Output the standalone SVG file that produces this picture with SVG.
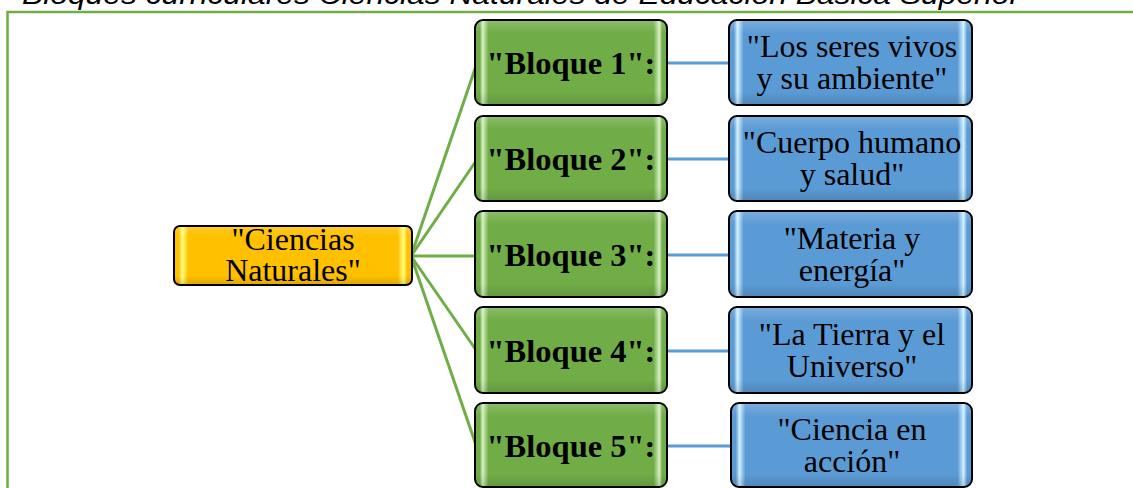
<svg xmlns="http://www.w3.org/2000/svg" width="1133" height="488" viewBox="0 0 1133 488">
<defs>
<linearGradient id="gG" x1="0" y1="0" x2="1" y2="0">
<stop offset="0" stop-color="#70AD47"/><stop offset="0.025" stop-color="#70AD47"/><stop offset="0.04" stop-color="#D8F0C4"/><stop offset="0.07" stop-color="#70AD47"/>
<stop offset="0.93" stop-color="#70AD47"/><stop offset="0.96" stop-color="#D8F0C4"/><stop offset="0.975" stop-color="#70AD47"/><stop offset="1" stop-color="#70AD47"/>
</linearGradient>
<linearGradient id="gB" x1="0" y1="0" x2="1" y2="0">
<stop offset="0" stop-color="#5B9BD5"/><stop offset="0.02" stop-color="#5B9BD5"/><stop offset="0.035" stop-color="#D2F0FF"/><stop offset="0.06" stop-color="#5B9BD5"/>
<stop offset="0.94" stop-color="#5B9BD5"/><stop offset="0.965" stop-color="#D2F0FF"/><stop offset="0.98" stop-color="#5B9BD5"/><stop offset="1" stop-color="#5B9BD5"/>
</linearGradient>
<linearGradient id="gO" x1="0" y1="0" x2="1" y2="0">
<stop offset="0" stop-color="#FFC000"/><stop offset="0.02" stop-color="#FFC000"/><stop offset="0.035" stop-color="#FFFF80"/><stop offset="0.06" stop-color="#FFC000"/>
<stop offset="0.94" stop-color="#FFC000"/><stop offset="0.965" stop-color="#FFFF80"/><stop offset="0.98" stop-color="#FFC000"/><stop offset="1" stop-color="#FFC000"/>
</linearGradient>
<linearGradient id="shade" x1="0" y1="0" x2="0" y2="1">
<stop offset="0" stop-color="#fff" stop-opacity="0.18"/><stop offset="0.15" stop-color="#fff" stop-opacity="0"/><stop offset="0.85" stop-color="#000" stop-opacity="0"/><stop offset="1" stop-color="#000" stop-opacity="0.12"/>
</linearGradient>
</defs>
<style>
.box{stroke:#000;stroke-width:2}
.ov{fill:url(#shade);stroke:none}
.t{font-family:"Liberation Serif","Times New Roman",serif;font-size:32px;fill:#000;text-anchor:middle}
.b{font-family:"Liberation Serif","Times New Roman",serif;font-size:32.5px;font-weight:bold;fill:#000;text-anchor:middle}
.gl{stroke:#70AD47;stroke-width:3;fill:none}
.bl{stroke:#5B9BD5;stroke-width:3;fill:none}
</style>
<rect width="1133" height="488" fill="#fff"/>
<text x="22" y="4" font-family="Liberation Sans, Arial, sans-serif" font-style="italic" font-size="27" textLength="998" lengthAdjust="spacingAndGlyphs">Bloques curriculares Ciencias Naturales de Educación Básica Superior</text>
<path d="M1140 12 H7.5 V495" fill="none" stroke="#70AD47" stroke-width="2.5"/>
<g id="connectors">
<line class="gl" x1="411" y1="256" x2="476" y2="66"/>
<line class="gl" x1="411" y1="256" x2="476" y2="161"/>
<line class="gl" x1="411" y1="256" x2="476" y2="256"/>
<line class="gl" x1="411" y1="256" x2="476" y2="350"/>
<line class="gl" x1="411" y1="256" x2="476" y2="445"/>
<line class="bl" x1="667" y1="63" x2="730" y2="63"/>
<line class="bl" x1="667" y1="159" x2="730" y2="159"/>
<line class="bl" x1="667" y1="255" x2="730" y2="255"/>
<line class="bl" x1="667" y1="351" x2="730" y2="351"/>
<line class="bl" x1="667" y1="446" x2="730" y2="446"/>
</g>
<g id="root">
<rect class="box" x="174" y="226" width="238" height="59" rx="6" fill="url(#gO)"/>
<rect class="ov" x="175" y="227" width="236" height="57" rx="5"/>
<text class="t" x="293" y="250">"Ciencias</text>
<text class="t" x="293" y="281">Naturales"</text>
</g>
<g id="b1">
<rect class="box" x="475" y="20" width="192" height="85" rx="8" fill="url(#gG)"/>
<rect class="ov" x="476" y="21" width="190" height="83" rx="7"/>
<text class="b" x="571" y="74">"Bloque 1":</text>
</g>
<g id="b2">
<rect class="box" x="475" y="116" width="192" height="85" rx="8" fill="url(#gG)"/>
<rect class="ov" x="476" y="117" width="190" height="83" rx="7"/>
<text class="b" x="571" y="170">"Bloque 2":</text>
</g>
<g id="b3">
<rect class="box" x="475" y="211" width="192" height="86" rx="8" fill="url(#gG)"/>
<rect class="ov" x="476" y="212" width="190" height="84" rx="7"/>
<text class="b" x="571" y="266">"Bloque 3":</text>
</g>
<g id="b4">
<rect class="box" x="475" y="307" width="192" height="86" rx="8" fill="url(#gG)"/>
<rect class="ov" x="476" y="308" width="190" height="84" rx="7"/>
<text class="b" x="571" y="362">"Bloque 4":</text>
</g>
<g id="b5">
<rect class="box" x="475" y="403" width="192" height="84" rx="8" fill="url(#gG)"/>
<rect class="ov" x="476" y="404" width="190" height="82" rx="7"/>
<text class="b" x="571" y="457">"Bloque 5":</text>
</g>
<g id="c1">
<rect class="box" x="729" y="20" width="243" height="85" rx="8" fill="url(#gB)"/>
<rect class="ov" x="730" y="21" width="241" height="83" rx="7"/>
<text class="t" x="852" y="57">"Los seres vivos</text>
<text class="t" x="852" y="89">y su ambiente"</text>
</g>
<g id="c2">
<rect class="box" x="729" y="116" width="243" height="85" rx="8" fill="url(#gB)"/>
<rect class="ov" x="730" y="117" width="241" height="83" rx="7"/>
<text class="t" x="852" y="153">"Cuerpo humano</text>
<text class="t" x="852" y="185">y salud"</text>
</g>
<g id="c3">
<rect class="box" x="729" y="211" width="243" height="86" rx="8" fill="url(#gB)"/>
<rect class="ov" x="730" y="212" width="241" height="84" rx="7"/>
<text class="t" x="852" y="249">"Materia y</text>
<text class="t" x="852" y="281">energía"</text>
</g>
<g id="c4">
<rect class="box" x="729" y="307" width="243" height="86" rx="8" fill="url(#gB)"/>
<rect class="ov" x="730" y="308" width="241" height="84" rx="7"/>
<text class="t" x="852" y="345">"La Tierra y el</text>
<text class="t" x="852" y="377">Universo"</text>
</g>
<g id="c5">
<rect class="box" x="731" y="403" width="241" height="84" rx="8" fill="url(#gB)"/>
<rect class="ov" x="732" y="404" width="239" height="82" rx="7"/>
<text class="t" x="852" y="440">"Ciencia en</text>
<text class="t" x="852" y="472">acción"</text>
</g>
</svg>
